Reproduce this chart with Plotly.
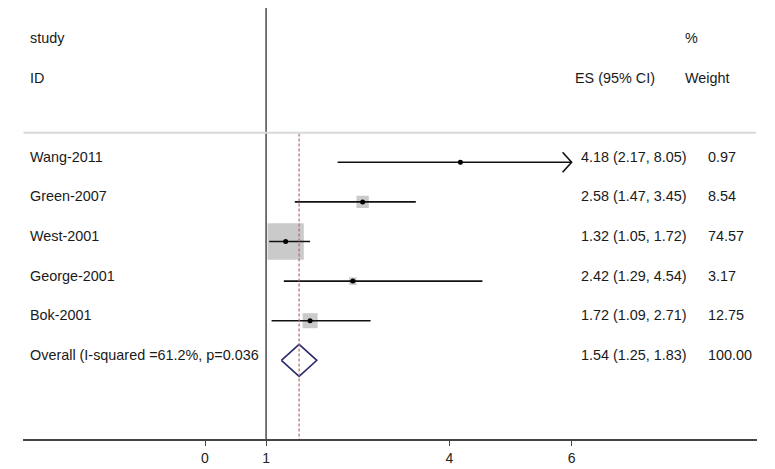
import plotly.graph_objects as go

# ---------------- data ----------------
studies = ["Wang-2011", "Green-2007", "West-2001", "George-2001", "Bok-2001"]
es = [4.18, 2.58, 1.32, 2.42, 1.72]
ci_low = [2.17, 1.47, 1.05, 1.29, 1.09]
ci_high = [8.05, 3.45, 1.72, 4.54, 2.71]
weights = [0.97, 8.54, 74.57, 3.17, 12.75]

overall_label = "Overall (I-squared =61.2%, p=0.036"
overall_es = 1.54
overall_low = 1.25
overall_high = 1.83
overall_weight = 100.00

tick_vals = [0, 1, 4, 6]
tick_text = ["0", "1", "4", "6"]
x_clip_max = 6  # CIs beyond this are drawn with an arrow

# ---------------- layout constants (page pixel coords) ----------------
PAGE_W, PAGE_H = 775, 469
OFF = 8  # default body margin of the html page
W, H = PAGE_W - OFF, PAGE_H - OFF
PX_PER_UNIT = 61.1
X0_PX = 205.0
ROW_PX = 39.6
ROW1_PX = 162.3
AXIS_PX = 439.0
XL_PX, XR_PX = 23.3, 756.7

def xpx(p):
    return (p - X0_PX) / PX_PER_UNIT

def ypx(p):
    return 1 + (p - ROW1_PX) / ROW_PX

x_range = [xpx(XL_PX), xpx(XR_PX)]
y_range = [ypx(AXIS_PX), ypx(OFF)]

rows = list(range(1, len(studies) + 1))
overall_row = len(studies) + 1

FONT = "Liberation Sans, Arial, sans-serif"
TXT_COL = "#1a1a1a"
TXT_OFF = -0.14
FS = 14.4

fig = go.Figure()

# weight boxes
sizes = [4.2 * (w ** 0.5) for w in weights]
fig.add_trace(go.Scatter(x=es, y=rows, mode="markers",
                         marker=dict(symbol="square", size=sizes, color="#b4b4b4",
                                     line=dict(width=0)),
                         hoverinfo="skip", showlegend=False))

# CI lines
xs, ys = [], []
for r, lo, hi in zip(rows, ci_low, ci_high):
    xs += [lo, min(hi, x_clip_max), None]
    ys += [r, r, None]
fig.add_trace(go.Scatter(x=xs, y=ys, mode="lines",
                         line=dict(color="#111111", width=1.6),
                         hoverinfo="skip", showlegend=False))

# arrows for clipped CIs
ax, ay = [], []
for r, hi in zip(rows, ci_high):
    if hi > x_clip_max:
        dx = 9 / PX_PER_UNIT
        dy = 10 / ROW_PX
        ax += [x_clip_max - dx, x_clip_max, x_clip_max - dx, None]
        ay += [r - dy, r, r + dy, None]
fig.add_trace(go.Scatter(x=ax, y=ay, mode="lines",
                         line=dict(color="#111111", width=1.6),
                         hoverinfo="skip", showlegend=False))

# point estimates
fig.add_trace(go.Scatter(x=es, y=rows, mode="markers",
                         marker=dict(symbol="circle", size=5, color="#000000",
                                     line=dict(width=0)),
                         hoverinfo="skip", showlegend=False))

# overall diamond
dh = 16 / ROW_PX
fig.add_trace(go.Scatter(
    x=[overall_low, overall_es, overall_high, overall_es, overall_low],
    y=[overall_row, overall_row - dh, overall_row, overall_row + dh, overall_row],
    mode="lines", fill="toself", fillcolor="white",
    line=dict(color="#2b2b6e", width=1.6),
    hoverinfo="skip", showlegend=False))

shapes = [
    # null line at x=1
    dict(type="line", xref="x", yref="y", x0=1, x1=1, y0=ypx(4.3), y1=y_range[0],
         line=dict(color="#555555", width=1.6)),
    # overall dashed line
    dict(type="line", xref="x", yref="y", x0=overall_es, x1=overall_es,
         y0=ypx(133.5), y1=y_range[0],
         line=dict(color="#b06a6a", width=1.2, dash="3px,2px")),
    # header separator
    dict(type="line", xref="x", yref="y", x0=x_range[0], x1=xpx(756),
         y0=ypx(132.7), y1=ypx(132.7),
         line=dict(color="#d9d9d9", width=2)),
]

ann = []
def txt(x, y, s):
    ann.append(dict(x=x, y=y, xref="x", yref="y", text=s, showarrow=False,
                    xanchor="left", yanchor="middle",
                    font=dict(family=FONT, size=FS, color=TXT_COL)))

X_LABEL = xpx(27.5)
X_ES = xpx(579)
X_ES_HEAD = xpx(573.3)
X_W = xpx(706)
X_W_HEAD = xpx(682.7)

txt(X_LABEL, -2 + TXT_OFF, "study")
txt(X_LABEL, -1 + TXT_OFF, "ID")
txt(X_W_HEAD, -2 + TXT_OFF, "%")
txt(X_ES_HEAD, -1 + TXT_OFF, "ES (95% CI)")
txt(X_W_HEAD, -1 + TXT_OFF, "Weight")

for r, name, e, lo, hi, w in zip(rows, studies, es, ci_low, ci_high, weights):
    txt(X_LABEL, r + TXT_OFF, name)
    txt(X_ES, r + TXT_OFF, f"{e:.2f} ({lo:.2f}, {hi:.2f})")
    txt(X_W, r + TXT_OFF, f"{w:.2f}")

txt(X_LABEL, overall_row + TXT_OFF, overall_label)
txt(X_ES, overall_row + TXT_OFF, f"{overall_es:.2f} ({overall_low:.2f}, {overall_high:.2f})")
txt(X_W, overall_row + TXT_OFF, f"{overall_weight:.2f}")

fig.update_layout(
    width=W, height=H,
    margin=dict(l=0, r=0, t=0, b=H - (AXIS_PX - OFF)),
    paper_bgcolor="white", plot_bgcolor="white",
    shapes=shapes, annotations=ann,
    xaxis=dict(domain=[(XL_PX - OFF) / W, (XR_PX - OFF) / W], range=x_range,
               showgrid=False, zeroline=False,
               showline=True, linecolor="#444444", linewidth=1.5,
               ticks="outside", ticklen=5, tickwidth=1.2, tickcolor="#444444",
               tickvals=tick_vals, ticktext=tick_text,
               tickfont=dict(family="Liberation Sans Narrow, Liberation Sans, Arial", size=14,
                             color="#222222"),
               fixedrange=True),
    yaxis=dict(range=y_range, showgrid=False, zeroline=False, showline=False,
               showticklabels=False, ticks="", fixedrange=True),
)

fig.write_html("out.html")
